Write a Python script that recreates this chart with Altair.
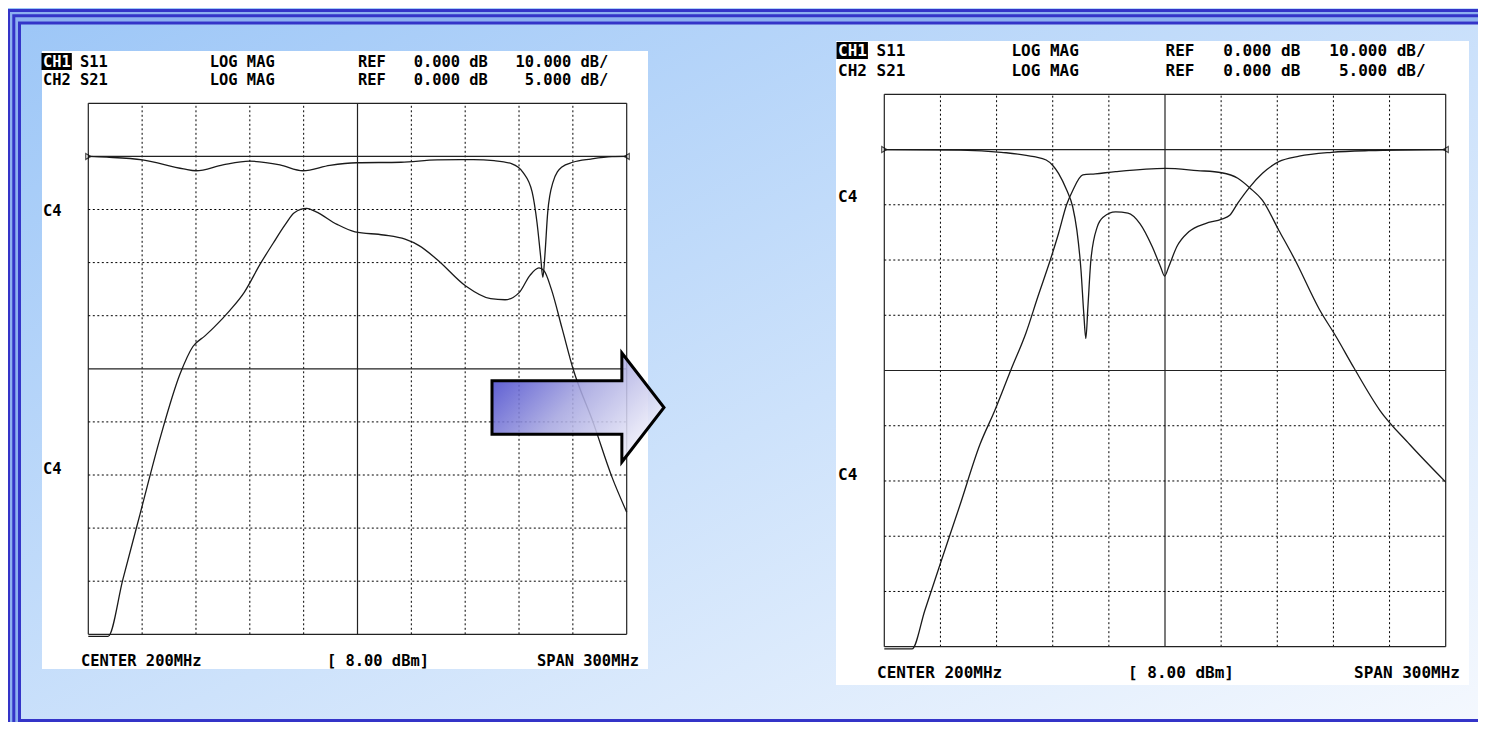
import altair as alt
import pandas as pd

# ---------------- data ----------------
# frequency axis: CENTER 200 MHz, SPAN 300 MHz -> 50..350 MHz, 10 divisions
freq_all = [50, 80, 110, 140, 170, 200, 230, 260, 290, 320, 350]
freq_solid = [50, 200, 350]
div_all = [0, 1, 2, 3, 4, 5, 6, 7, 8, 9, 10]
div_solid = [0, 5, 9, 10]

# ---- left screen (before tuning) ----
before_s11_f = [50, 60.3, 80.2, 103.1, 110, 125, 139.9, 156.8, 169.6, 184.6, 199.6,
                224.2, 244.3, 264.4, 276.1, 286.1, 292.2, 297.3, 300, 302, 303.3,
                304.4, 306, 308.9, 313.9, 320, 330, 341.8, 350]
before_s11_db = [0, -0.15, -0.66, -2.35, -2.7, -1.6, -0.9, -1.6, -2.7, -1.7, -1.2,
                 -1.1, -0.66, -0.6, -0.8, -1.4, -3.0, -6.7, -12.4, -18.7, -22.8,
                 -18.7, -10.5, -4.9, -2.0, -1.1, -0.5, -0.05, 0]
before_s21_f = [50, 61, 69.3, 78.8, 89.9, 101.1, 108.3, 115, 120, 128.9, 136.9, 145.9,
                152.9, 159.8, 164.8, 171.7, 176.7, 188.6, 198.6, 214.5, 226.5, 234.3,
                244.3, 260.3, 274.2, 282.2, 290.2, 296.1, 301.1, 304.1, 308, 314,
                320.1, 331.2, 341.8, 350]
before_s21_db = [-45.2, -45.2, -39.8, -33.7, -26.6, -20.5, -17.9, -16.9, -16.1, -14.5,
                 -12.8, -10.1, -8.2, -6.4, -5.3, -4.9, -5.2, -6.4, -7.1, -7.4, -7.8,
                 -8.4, -9.7, -12.2, -13.4, -13.5, -12.8, -11.2, -10.5, -10.8, -12.5,
                 -16.2, -20, -25, -30.2, -33.5]

# ---- right screen (after tuning) ----
after_s11_f = [50, 90.8, 112.5, 130, 136.5, 139.8, 143.1, 147.4, 150.7, 152.9, 155.1,
               156.6, 157.7, 158.8, 160.4, 163.8, 167.1, 173.6, 180.2, 186.6, 193.2,
               197.6, 199.8, 202, 206.3, 212.7, 221.6, 230.3, 234.6, 238.9, 245.5,
               252.1, 260.8, 271.7, 289.1, 308.8, 350]
after_s11_db = [0, -0.1, -0.5, -1.3, -1.9, -2.8, -4.3, -7.3, -10.4, -14.6, -21.8,
                -29.7, -34.2, -28.5, -20, -14, -12.2, -11.3, -11.5, -13.4, -17.6,
                -21.2, -22.9, -21.2, -17.6, -14.9, -13.4, -12.6, -11.9, -9.7, -6.7,
                -4.3, -2.2, -1.2, -0.5, -0.2, 0]
after_s21_f = [50, 64.8, 71.7, 79.7, 90.4, 101.1, 109.1, 118, 125.7, 132.1, 138.7,
               143.1, 147.4, 150.7, 156.1, 162.7, 173.6, 200.2, 217.2, 230.3, 238.9,
               245.5, 252.1, 260.8, 269.5, 282.6, 291.3, 301.1, 314.8, 330.8, 350]
after_s21_db = [-45.2, -45.2, -41.7, -37.6, -32.2, -26.7, -23.6, -19.8, -16.6, -13.3,
                -10, -7.6, -5, -3.7, -2.3, -2.2, -2.0, -1.7, -1.9, -2.1, -2.6, -3.5,
                -4.6, -7.3, -10, -14.5, -16.9, -19.8, -23.6, -26.7, -30.1]

# ---- texts ----
hdr1 = ["CH1", "S11", "LOG MAG", "REF", "0.000 dB", "10.000 dB/"]
hdr2 = ["CH2", "S21", "LOG MAG", "REF", "0.000 dB", "5.000 dB/"]
footer = ["CENTER 200MHz", "[ 8.00 dBm]", "SPAN 300MHz"]
chan_label = "C4"

# ---------------- styling / layout ----------------
W, H = 1470, 714
MONO = "DejaVu Sans Mono"
NB = "\u00a0"
one = pd.DataFrame({"k": [0]})

PANELS = {
    "L": dict(x0=80.3, x1=618.7, yt=95.3, yb=626.3, box=(34, 43, 640, 661),
              fs=15.4, hx=35, h1=53.5, h2=71.5, fy=653, fx=(73, 319, 529),
              c4=(203, 461)),
    "R": dict(x0=876.3, x1=1437.7, yt=86.3, yb=638.7, box=(828, 33, 1461, 677),
              fs=16.0, hx=830, h1=42.5, h2=62.5, fy=665, fx=(869, 1120, 1346),
              c4=(189, 467)),
}


def mono_line(parts, cols):
    """Build one fixed-pitch line; cols are relative to the first part."""
    base = cols[0]
    s = ""
    for p, c in zip(parts, cols):
        s = s.ljust(c - base) + p
    return s.replace(" ", NB)


def rect(x, y, x2, y2, **kw):
    return alt.Chart(one).mark_rect(**kw).encode(
        x=alt.value(x), y=alt.value(y), x2=alt.value(x2), y2=alt.value(y2))


def text(t, x, y, size, color="black"):
    return alt.Chart(one).mark_text(
        text=t, font=MONO, fontSize=size, fontWeight="bold", color=color,
        align="left", baseline="middle").encode(x=alt.value(x), y=alt.value(y))


layers = []

# slide background
bg_grad = {"gradient": "linear", "x1": 0, "y1": 0, "x2": 1, "y2": 1,
           "stops": [{"offset": 0, "color": "#9cc6f7"},
                     {"offset": 0.55, "color": "#cde2fb"},
                     {"offset": 1, "color": "#f4f8fe"}]}
layers.append(rect(0, 0, W, H, fill=bg_grad))
# slide frame
layers.append(rect(5.8, 7.7, W + 40, H + 40, filled=False, stroke="#8db0f0", strokeWidth=12))
for (fx, fy, fb) in [(0.5, 2.5, H + 40), (5.8, 7.7, H + 40), (11.5, 15, 712.5)]:
    layers.append(rect(fx, fy, W + 40, fb, filled=False, stroke="#3434c8", strokeWidth=3))


def panel(g, s11f, s11db, s21f, s21db):
    out = []
    bx = g["box"]
    out.append(rect(bx[0], bx[1], bx[2], bx[3], fill="white"))
    xsc = alt.Scale(domain=[50, 350], range=[g["x0"], g["x1"]], nice=False, zero=False)
    dsc = alt.Scale(domain=[0, 10], range=[g["yb"], g["yt"]], nice=False, zero=False)
    s11sc = alt.Scale(domain=[-90, 10], range=[g["yb"], g["yt"]], nice=False, zero=False)
    s21sc = alt.Scale(domain=[-45, 5], range=[g["yb"], g["yt"]], nice=False, zero=False)

    vd = pd.DataFrame({"f": [f for f in freq_all if f not in freq_solid]})
    vd["d0"], vd["d1"] = 0, 10
    vs = pd.DataFrame({"f": freq_solid})
    vs["d0"], vs["d1"] = 0, 10
    hd = pd.DataFrame({"d": [d for d in div_all if d not in div_solid]})
    hd["f0"], hd["f1"] = 50, 350
    hs = pd.DataFrame({"d": div_solid})
    hs["f0"], hs["f1"] = 50, 350

    for df, dash, sw, col in [(vd, [2, 2.5], 1, "#000"), (vs, None, 1.2, "#222")]:
        kw = dict(color=col, strokeWidth=sw)
        if dash:
            kw["strokeDash"] = dash
        out.append(alt.Chart(df).mark_rule(**kw).encode(
            x=alt.X("f:Q", scale=xsc, axis=None),
            y=alt.Y("d0:Q", scale=dsc, axis=None), y2="d1:Q"))
    for df, dash, sw, col in [(hd, [2, 2.5], 1, "#000"), (hs, None, 1.2, "#222")]:
        kw = dict(color=col, strokeWidth=sw)
        if dash:
            kw["strokeDash"] = dash
        out.append(alt.Chart(df).mark_rule(**kw).encode(
            y=alt.Y("d:Q", scale=dsc, axis=None),
            x=alt.X("f0:Q", scale=xsc, axis=None), x2="f1:Q"))

    # reference markers at 0 dB
    for f, shp, dx in [(50, "triangle-right", -3), (350, "triangle-left", 3)]:
        out.append(alt.Chart(pd.DataFrame({"f": [f], "db": [0]})).mark_point(
            shape=shp, size=35, filled=False, color="black", strokeWidth=1.2, dx=dx).encode(
            x=alt.X("f:Q", scale=xsc, axis=None),
            y=alt.Y("db:Q", scale=s11sc, axis=None)))

    # traces
    out.append(alt.Chart(pd.DataFrame({"f": s11f, "db": s11db})).mark_line(
        color="#1a1a1a", strokeWidth=1.3, interpolate="monotone").encode(
        x=alt.X("f:Q", scale=xsc, axis=None),
        y=alt.Y("db:Q", scale=s11sc, axis=None)))
    out.append(alt.Chart(pd.DataFrame({"f": s21f, "db": s21db})).mark_line(
        color="#1a1a1a", strokeWidth=1.3, interpolate="monotone").encode(
        x=alt.X("f:Q", scale=xsc, axis=None),
        y=alt.Y("db:Q", scale=s21sc, axis=None)))

    # header texts (fixed pitch columns)
    fs = g["fs"]
    pitch = fs * 0.602
    cols = [4, 18, 34, 40, 51]
    cols2 = [0, 4, 18, 34, 40, 52]
    l1 = mono_line(hdr1[1:], cols)
    l2 = mono_line(hdr2, cols2)
    out.append(rect(g["hx"] - 1.5, g["h1"] - 8.5, g["hx"] + 3 * pitch + 1, g["h1"] + 8.5, fill="black"))
    out.append(text(hdr1[0], g["hx"], g["h1"], fs, color="white"))
    out.append(text(l1, g["hx"] + 4 * pitch, g["h1"], fs))
    out.append(text(l2, g["hx"], g["h2"], fs))
    for t, x in zip(footer, g["fx"]):
        out.append(text(t, x, g["fy"], fs))
    for y in g["c4"]:
        out.append(text(chan_label, g["hx"], y, fs))
    return out


layers += panel(PANELS["L"], before_s11_f, before_s11_db, before_s21_f, before_s21_db)
layers += panel(PANELS["R"], after_s11_f, after_s11_db, after_s21_f, after_s21_db)

# block arrow between the two screens
ARROW = "M -1 -0.31 L 0.51 -0.31 L 0.51 -0.634 L 1 0 L 0.51 0.634 L 0.51 0.31 L -1 0.31 Z"
arrow_grad = {"gradient": "linear", "x1": 0, "y1": 0.2, "x2": 1, "y2": 0.8,
              "stops": [{"offset": 0, "color": "#4444cc"},
                        {"offset": 0.45, "color": "#a6a6e0"},
                        {"offset": 1, "color": "#fbfbfe"}]}
layers.append(alt.Chart(one).mark_point(
    shape=ARROW, size=172 * 172, filled=True, fill=arrow_grad, fillOpacity=0.88,
    stroke="black", strokeWidth=3, strokeJoin="miter", opacity=1).encode(
    x=alt.value(570), y=alt.value(399.5)))

chart = alt.layer(*layers).resolve_scale(x="independent", y="independent").properties(
    width=W, height=H, padding=0, autosize=alt.AutoSizeParams(type="none"),
).configure_view(stroke=None)

chart.save("out.html", embed_options={"renderer": "svg", "actions": False})
